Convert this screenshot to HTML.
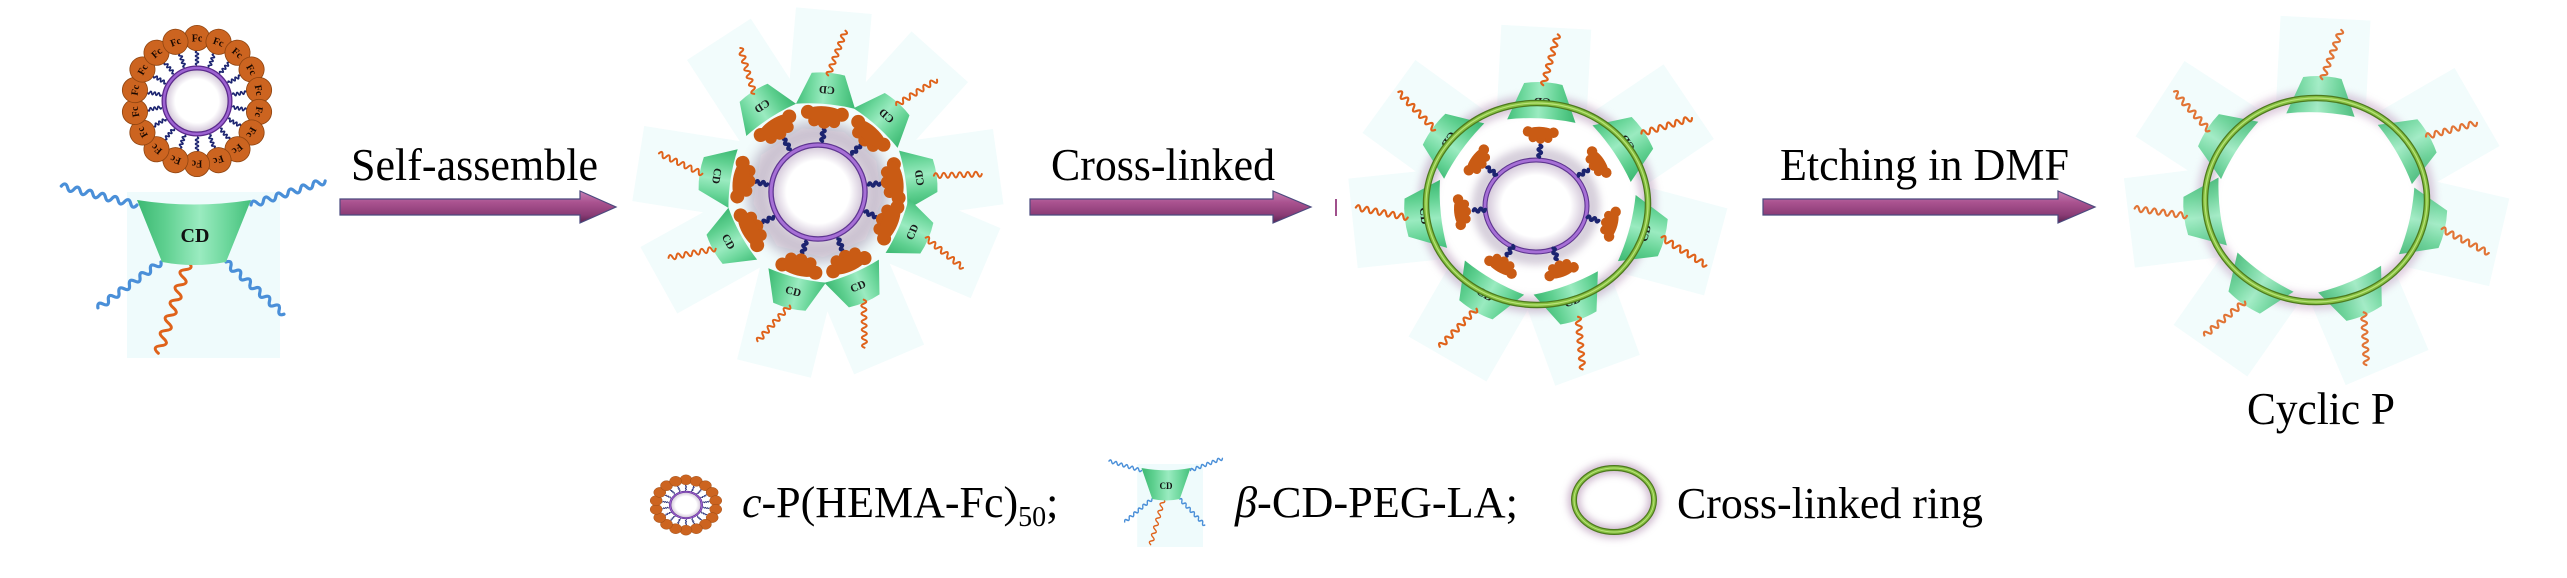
<!DOCTYPE html>
<html><head><meta charset="utf-8"><style>
html,body{margin:0;padding:0;background:#fff;}
svg{display:block;}
svg text{font-family:"Liberation Serif","Times New Roman",Times,"DejaVu Serif",serif;}
</style></head><body>
<svg width="2567" height="578" viewBox="0 0 2567 578" xmlns="http://www.w3.org/2000/svg" xmlns:xlink="http://www.w3.org/1999/xlink">
<defs>
<linearGradient id="ga" x1="0" y1="0" x2="0" y2="1">
<stop offset="0" stop-color="#c781b4"/><stop offset=".35" stop-color="#aa5390"/><stop offset=".75" stop-color="#8a3b75"/><stop offset="1" stop-color="#5a2450"/>
</linearGradient>
<linearGradient id="gCD" x1="0" y1="0" x2="1" y2="0">
<stop offset="0" stop-color="#3cb872"/><stop offset=".25" stop-color="#5fd090"/><stop offset=".55" stop-color="#9aebc0"/><stop offset=".8" stop-color="#6ad69a"/><stop offset="1" stop-color="#44bf7b"/>
</linearGradient>
<radialGradient id="gIn"><stop offset="0" stop-color="#fff"/><stop offset=".7" stop-color="#fff"/><stop offset="1" stop-color="#d4c8da"/></radialGradient>
<filter id="b6" x="-50%" y="-50%" width="200%" height="200%"><feGaussianBlur stdDeviation="6"/></filter>
<filter id="b4" x="-50%" y="-50%" width="200%" height="200%"><feGaussianBlur stdDeviation="4"/></filter>
<path id="wBlue" fill="none" stroke="#4a8fd8" stroke-width="3.2" stroke-linecap="round" d="M0,0 q3.25,-6 6.5,0 t6.5,0 t6.5,0 t6.5,0 t6.5,0 t6.5,0 t6.5,0 t6.5,0 t6.5,0 t6.5,0 t6.5,0 t6.5,0"/>
<path id="wOrange" fill="none" stroke="#df621a" stroke-width="3" stroke-linecap="round" d="M0,0 q4,-9 8,0 t8,0 t8,0 t8,0 t8,0 t8,0 t8,0 t8,0 t8,0 t8,0 t8,0 t8,0"/>
<path id="wSmall" fill="none" stroke="#df621a" stroke-width="2" stroke-linecap="round" d="M0,0 q2,-5 4,0 t4,0 t4,0 t4,0 t4,0 t4,0 t4,0 t4,0 t4,0 t4,0 t4,0 t4,0"/>
<path id="wNavy" fill="none" stroke="#1c2470" stroke-width="1.6" d="M0,0 q1,-3 2,0 t2,0 t2,0 t2,0 t2,0 t2,0 t2,0"/>
<path id="wNavyT" fill="none" stroke="#1c2470" stroke-width="3.4" stroke-linecap="round" d="M0,0 q1.5,-3.5 3,0 t3,0 t3,0 t3,0"/>
<path id="trap" fill="url(#gCD)" d="M-57,0 Q0,9 57,0 L32,62 Q0,68 -32,62 Z"/>
<g id="blob" fill="#c95b14">
<circle cx="-17" cy="4" r="7"/><circle cx="-8" cy="2" r="8"/><circle cx="0" cy="1" r="8.5"/><circle cx="8" cy="2" r="8"/><circle cx="17" cy="4" r="7"/>
<circle cx="-10" cy="-4" r="6"/><circle cx="0" cy="-5" r="6.5"/><circle cx="10" cy="-4" r="6"/>
<ellipse cx="0" cy="3" rx="20" ry="8"/>
</g>
<g id="cdmain">
<rect x="127" y="192" width="153" height="166" fill="#effbfc"/>
<use xlink:href="#wBlue" transform="translate(137,205) rotate(194)"/>
<use xlink:href="#wBlue" transform="translate(251,205) rotate(-18)"/>
<use xlink:href="#wBlue" transform="translate(161,262) rotate(144)"/>
<use xlink:href="#wBlue" transform="translate(226,262) rotate(42)"/>
<use xlink:href="#wOrange" transform="translate(188,262) rotate(108)"/>
<use xlink:href="#trap" transform="translate(194,200)"/>
</g>
<g id="fcr">
<circle cx="197" cy="101" r="31" fill="url(#gIn)"/>
<g transform="translate(197,101)" fill="#cc6420" stroke="#8f4410" stroke-width=".8">
<g transform="rotate(0)"><use xlink:href="#wNavy" transform="translate(0,-36) rotate(-90)"/><circle cx="0" cy="-63" r="12.6"/></g>
<g transform="rotate(20)"><use xlink:href="#wNavy" transform="translate(0,-36) rotate(-90)"/><circle cx="0" cy="-63" r="12.6"/></g>
<g transform="rotate(40)"><use xlink:href="#wNavy" transform="translate(0,-36) rotate(-90)"/><circle cx="0" cy="-63" r="12.6"/></g>
<g transform="rotate(60)"><use xlink:href="#wNavy" transform="translate(0,-36) rotate(-90)"/><circle cx="0" cy="-63" r="12.6"/></g>
<g transform="rotate(80)"><use xlink:href="#wNavy" transform="translate(0,-36) rotate(-90)"/><circle cx="0" cy="-63" r="12.6"/></g>
<g transform="rotate(100)"><use xlink:href="#wNavy" transform="translate(0,-36) rotate(-90)"/><circle cx="0" cy="-63" r="12.6"/></g>
<g transform="rotate(120)"><use xlink:href="#wNavy" transform="translate(0,-36) rotate(-90)"/><circle cx="0" cy="-63" r="12.6"/></g>
<g transform="rotate(140)"><use xlink:href="#wNavy" transform="translate(0,-36) rotate(-90)"/><circle cx="0" cy="-63" r="12.6"/></g>
<g transform="rotate(160)"><use xlink:href="#wNavy" transform="translate(0,-36) rotate(-90)"/><circle cx="0" cy="-63" r="12.6"/></g>
<g transform="rotate(180)"><use xlink:href="#wNavy" transform="translate(0,-36) rotate(-90)"/><circle cx="0" cy="-63" r="12.6"/></g>
<g transform="rotate(200)"><use xlink:href="#wNavy" transform="translate(0,-36) rotate(-90)"/><circle cx="0" cy="-63" r="12.6"/></g>
<g transform="rotate(220)"><use xlink:href="#wNavy" transform="translate(0,-36) rotate(-90)"/><circle cx="0" cy="-63" r="12.6"/></g>
<g transform="rotate(240)"><use xlink:href="#wNavy" transform="translate(0,-36) rotate(-90)"/><circle cx="0" cy="-63" r="12.6"/></g>
<g transform="rotate(260)"><use xlink:href="#wNavy" transform="translate(0,-36) rotate(-90)"/><circle cx="0" cy="-63" r="12.6"/></g>
<g transform="rotate(280)"><use xlink:href="#wNavy" transform="translate(0,-36) rotate(-90)"/><circle cx="0" cy="-63" r="12.6"/></g>
<g transform="rotate(300)"><use xlink:href="#wNavy" transform="translate(0,-36) rotate(-90)"/><circle cx="0" cy="-63" r="12.6"/></g>
<g transform="rotate(320)"><use xlink:href="#wNavy" transform="translate(0,-36) rotate(-90)"/><circle cx="0" cy="-63" r="12.6"/></g>
<g transform="rotate(340)"><use xlink:href="#wNavy" transform="translate(0,-36) rotate(-90)"/><circle cx="0" cy="-63" r="12.6"/></g>
</g>
<circle cx="197" cy="101" r="33" fill="none" stroke="#5b2a8c" stroke-width="5"/>
<circle cx="197" cy="101" r="33" fill="none" stroke="#9d62d2" stroke-width="2.4"/>
</g>
</defs>

<!-- ===== Structure 1 ===== -->
<use xlink:href="#fcr"/>
<g transform="translate(197,101)" font-weight="bold" font-size="10" text-anchor="middle" fill="#1a0800">
<g transform="rotate(0)"><text x="0" y="-59.5">Fc</text></g>
<g transform="rotate(20)"><text x="0" y="-59.5">Fc</text></g>
<g transform="rotate(40)"><text x="0" y="-59.5">Fc</text></g>
<g transform="rotate(60)"><text x="0" y="-59.5">Fc</text></g>
<g transform="rotate(80)"><text x="0" y="-59.5">Fc</text></g>
<g transform="rotate(100)"><text x="0" y="-59.5">Fc</text></g>
<g transform="rotate(120)"><text x="0" y="-59.5">Fc</text></g>
<g transform="rotate(140)"><text x="0" y="-59.5">Fc</text></g>
<g transform="rotate(160)"><text x="0" y="-59.5">Fc</text></g>
<g transform="rotate(180)"><text x="0" y="-59.5">Fc</text></g>
<g transform="rotate(200)"><text x="0" y="-59.5">Fc</text></g>
<g transform="rotate(220)"><text x="0" y="-59.5">Fc</text></g>
<g transform="rotate(240)"><text x="0" y="-59.5">Fc</text></g>
<g transform="rotate(260)"><text x="0" y="-59.5">Fc</text></g>
<g transform="rotate(280)"><text x="0" y="-59.5">Fc</text></g>
<g transform="rotate(300)"><text x="0" y="-59.5">Fc</text></g>
<g transform="rotate(320)"><text x="0" y="-59.5">Fc</text></g>
<g transform="rotate(340)"><text x="0" y="-59.5">Fc</text></g>
</g>
<use xlink:href="#cdmain"/>
<text x="195" y="242" font-weight="bold" font-size="20" text-anchor="middle" fill="#111">CD</text>

<!-- ===== Arrows & labels ===== -->
<path d="M340,199 L580,199 L580,191 L616,207 L580,223 L580,215 L340,215 Z" fill="url(#ga)" stroke="#4b4a7e" stroke-width="1.2"/>
<path d="M1030,199 L1273,199 L1273,191 L1311,207 L1273,223 L1273,215 L1030,215 Z" fill="url(#ga)" stroke="#4b4a7e" stroke-width="1.2"/>
<path d="M1763,199 L2058,199 L2058,191 L2095,207 L2058,223 L2058,215 L1763,215 Z" fill="url(#ga)" stroke="#4b4a7e" stroke-width="1.2"/>
<text x="351" y="180" font-size="45" fill="#000" textLength="247" lengthAdjust="spacingAndGlyphs">Self-assemble</text>
<text x="1051" y="180" font-size="45" fill="#000" textLength="224" lengthAdjust="spacingAndGlyphs">Cross-linked</text>
<text x="1780" y="180" font-size="45" fill="#000" textLength="289" lengthAdjust="spacingAndGlyphs">Etching in DMF</text>
<text x="2247" y="424" font-size="46" fill="#000" textLength="148" lengthAdjust="spacingAndGlyphs">Cyclic P</text>

<!-- ===== Structure 2 (818,192) ===== -->
<g fill="#f2fcfc">
<rect x="-38" y="62" width="76" height="120" transform="translate(818,192) rotate(99)"/>
<rect x="-38" y="62" width="76" height="120" transform="translate(818,192) rotate(147)"/>
<rect x="-38" y="62" width="76" height="120" transform="translate(818,192) rotate(-175)"/>
<rect x="-38" y="62" width="76" height="120" transform="translate(818,192) rotate(-138)"/>
<rect x="-38" y="62" width="76" height="120" transform="translate(818,192) rotate(-98)"/>
<rect x="-38" y="62" width="76" height="120" transform="translate(818,192) rotate(-67)"/>
<rect x="-38" y="62" width="76" height="120" transform="translate(818,192) rotate(-23)"/>
<rect x="-38" y="62" width="76" height="120" transform="translate(818,192) rotate(14)"/>
<rect x="-38" y="62" width="76" height="120" transform="translate(818,192) rotate(61)"/>
</g>
<circle cx="818" cy="192" r="58" fill="none" stroke="#8e7a9a" stroke-width="26" opacity=".45" filter="url(#b6)"/>
<circle cx="818" cy="192" r="45" fill="url(#gIn)"/>
<circle cx="818" cy="192" r="47" fill="none" stroke="#5e3590" stroke-width="5.5"/>
<circle cx="818" cy="192" r="47" fill="none" stroke="#a66fd6" stroke-width="3"/>
<g font-weight="bold" font-size="11" text-anchor="middle" fill="#1a1a1a">
<g transform="translate(818,192) rotate(99)"><use xlink:href="#wNavyT" transform="translate(0,51) rotate(90)"/><use xlink:href="#blob" transform="translate(0,75)"/><use xlink:href="#trap" transform="translate(0,86) scale(.52)"/><use xlink:href="#wSmall" transform="translate(0,117) rotate(106)"/><text x="0" y="106">CD</text></g>
<g transform="translate(818,192) rotate(147)"><use xlink:href="#wNavyT" transform="translate(0,51) rotate(90)"/><use xlink:href="#blob" transform="translate(0,75)"/><use xlink:href="#trap" transform="translate(0,86) scale(.52)"/><use xlink:href="#wSmall" transform="translate(0,117) rotate(106)"/><text x="0" y="106">CD</text></g>
<g transform="translate(818,192) rotate(-175)"><use xlink:href="#wNavyT" transform="translate(0,51) rotate(90)"/><use xlink:href="#blob" transform="translate(0,75)"/><use xlink:href="#trap" transform="translate(0,86) scale(.52)"/><use xlink:href="#wSmall" transform="translate(0,117) rotate(106)"/><text x="0" y="106">CD</text></g>
<g transform="translate(818,192) rotate(-138)"><use xlink:href="#wNavyT" transform="translate(0,51) rotate(90)"/><use xlink:href="#blob" transform="translate(0,75)"/><use xlink:href="#trap" transform="translate(0,86) scale(.52)"/><use xlink:href="#wSmall" transform="translate(0,117) rotate(106)"/><text x="0" y="106">CD</text></g>
<g transform="translate(818,192) rotate(-98)"><use xlink:href="#wNavyT" transform="translate(0,51) rotate(90)"/><use xlink:href="#blob" transform="translate(0,75)"/><use xlink:href="#trap" transform="translate(0,86) scale(.52)"/><use xlink:href="#wSmall" transform="translate(0,117) rotate(96)"/><text x="0" y="106">CD</text></g>
<g transform="translate(818,192) rotate(-67)"><use xlink:href="#wNavyT" transform="translate(0,51) rotate(90)"/><use xlink:href="#blob" transform="translate(0,75)"/><use xlink:href="#trap" transform="translate(0,86) scale(.52)"/><use xlink:href="#wSmall" transform="translate(0,117) rotate(106)"/><text x="0" y="106">CD</text></g>
<g transform="translate(818,192) rotate(-23)"><use xlink:href="#wNavyT" transform="translate(0,51) rotate(90)"/><use xlink:href="#blob" transform="translate(0,75)"/><use xlink:href="#trap" transform="translate(0,86) scale(.52)"/><use xlink:href="#wSmall" transform="translate(0,117) rotate(112)"/><text x="0" y="106">CD</text></g>
<g transform="translate(818,192) rotate(14)"><use xlink:href="#wNavyT" transform="translate(0,51) rotate(90)"/><use xlink:href="#blob" transform="translate(0,75)"/><use xlink:href="#trap" transform="translate(0,86) scale(.52)"/><use xlink:href="#wSmall" transform="translate(0,117) rotate(118)"/><text x="0" y="106">CD</text></g>
<g transform="translate(818,192) rotate(61)"><use xlink:href="#wNavyT" transform="translate(0,51) rotate(90)"/><use xlink:href="#blob" transform="translate(0,75)"/><use xlink:href="#trap" transform="translate(0,86) scale(.52)"/><use xlink:href="#wSmall" transform="translate(0,117) rotate(108)"/><text x="0" y="106">CD</text></g>
</g>

<!-- ===== Structure 3 (1537,204) ===== -->
<g fill="#f2fcfc">
<rect x="-45" y="98" width="90" height="85" transform="translate(1537,204) rotate(126)"/>
<rect x="-45" y="92" width="90" height="85" transform="translate(1537,204) rotate(-177)"/>
<rect x="-45" y="98" width="90" height="85" transform="translate(1537,204) rotate(-124)"/>
<rect x="-45" y="100" width="90" height="85" transform="translate(1537,204) rotate(-75)"/>
<rect x="-45" y="92" width="90" height="85" transform="translate(1537,204) rotate(-20)"/>
<rect x="-45" y="94" width="90" height="85" transform="translate(1537,204) rotate(30)"/>
<rect x="-45" y="100" width="90" height="85" transform="translate(1537,204) rotate(84)"/>
</g>
<rect x="1335" y="199" width="2" height="17" fill="#a0508c"/>
<ellipse cx="1537" cy="204" rx="111" ry="101" fill="none" stroke="#b79ab9" stroke-width="16" opacity=".55" filter="url(#b4)"/>
<ellipse cx="1536" cy="206" rx="56" ry="51" fill="none" stroke="#9a88a6" stroke-width="16" opacity=".4" filter="url(#b4)"/>
<ellipse cx="1536" cy="206" rx="49" ry="44" fill="url(#gIn)"/>
<ellipse cx="1536" cy="206" rx="51" ry="46" fill="none" stroke="#5e3590" stroke-width="5"/>
<ellipse cx="1536" cy="206" rx="51" ry="46" fill="none" stroke="#a66fd6" stroke-width="2.8"/>
<g font-weight="bold" font-size="12" text-anchor="middle" fill="#1a1a1a">
<g transform="translate(1537,204) rotate(126)"><use xlink:href="#wNavyT" transform="translate(0,50) rotate(90)"/><use xlink:href="#blob" transform="translate(0,72) scale(.75)"/><use xlink:href="#trap" transform="translate(0,90) scale(.6)"/><use xlink:href="#wSmall" transform="translate(0,126) rotate(100) scale(1.1)"/><text x="0" y="113">CD</text></g>
<g transform="translate(1537,204) rotate(-177)"><use xlink:href="#wNavyT" transform="translate(0,47) rotate(90)"/><use xlink:href="#blob" transform="translate(0,69) scale(.75)"/><use xlink:href="#trap" transform="translate(0,83) scale(.6)"/><use xlink:href="#wSmall" transform="translate(0,119) rotate(103) scale(1.1)"/><text x="0" y="106">CD</text></g>
<g transform="translate(1537,204) rotate(-124)"><use xlink:href="#wNavyT" transform="translate(0,50) rotate(90)"/><use xlink:href="#blob" transform="translate(0,72) scale(.75)"/><use xlink:href="#trap" transform="translate(0,90) scale(.6)"/><use xlink:href="#wSmall" transform="translate(0,126) rotate(107) scale(1.1)"/><text x="0" y="113">CD</text></g>
<g transform="translate(1537,204) rotate(-75)"><use xlink:href="#wNavyT" transform="translate(0,52) rotate(90)"/><use xlink:href="#blob" transform="translate(0,75) scale(.75)"/><use xlink:href="#trap" transform="translate(0,93) scale(.6)"/><use xlink:href="#wSmall" transform="translate(0,129) rotate(107) scale(1.1)"/><text x="0" y="116">CD</text></g>
<g transform="translate(1537,204) rotate(-20)"><use xlink:href="#wNavyT" transform="translate(0,47) rotate(90)"/><use xlink:href="#blob" transform="translate(0,69) scale(.75)"/><use xlink:href="#trap" transform="translate(0,84) scale(.6)"/><use xlink:href="#wSmall" transform="translate(0,120) rotate(105) scale(1.1)"/><text x="0" y="107">CD</text></g>
<g transform="translate(1537,204) rotate(30)"><use xlink:href="#wNavyT" transform="translate(0,48) rotate(90)"/><use xlink:href="#blob" transform="translate(0,70) scale(.75)"/><use xlink:href="#trap" transform="translate(0,85) scale(.6)"/><use xlink:href="#wSmall" transform="translate(0,121) rotate(104) scale(1.1)"/><text x="0" y="108">CD</text></g>
<g transform="translate(1537,204) rotate(84)"><use xlink:href="#wNavyT" transform="translate(0,52) rotate(90)"/><use xlink:href="#blob" transform="translate(0,75) scale(.75)"/><use xlink:href="#trap" transform="translate(0,94) scale(.6)"/><use xlink:href="#wSmall" transform="translate(0,130) rotate(107) scale(1.1)"/><text x="0" y="117">CD</text></g>
</g>
<ellipse cx="1537" cy="204" rx="111" ry="101" fill="none" stroke="#4d7a1e" stroke-width="6.5"/>
<ellipse cx="1537" cy="204" rx="111" ry="101" fill="none" stroke="#86c040" stroke-width="4"/>
<ellipse cx="1537" cy="204" rx="111" ry="101" fill="none" stroke="#b8e27a" stroke-width="1.2"/>

<!-- ===== Structure 4 (2316,200) ===== -->
<g fill="#f2fcfc">
<rect x="-45" y="98" width="90" height="88" transform="translate(2316,200) rotate(123)"/>
<rect x="-45" y="94" width="90" height="88" transform="translate(2316,200) rotate(-177)"/>
<rect x="-45" y="98" width="90" height="88" transform="translate(2316,200) rotate(-120)"/>
<rect x="-45" y="100" width="90" height="88" transform="translate(2316,200) rotate(-77)"/>
<rect x="-45" y="94" width="90" height="88" transform="translate(2316,200) rotate(-23)"/>
<rect x="-45" y="96" width="90" height="88" transform="translate(2316,200) rotate(35)"/>
<rect x="-45" y="100" width="90" height="88" transform="translate(2316,200) rotate(83)"/>
</g>
<ellipse cx="2316" cy="200" rx="111" ry="102" fill="none" stroke="#c2a3c2" stroke-width="16" opacity=".55" filter="url(#b4)"/>
<g opacity=".88">
<g transform="translate(2316,200) rotate(123)"><use xlink:href="#trap" transform="translate(0,91) scale(.6)"/><use xlink:href="#wSmall" transform="translate(0,127) rotate(105) scale(1.1)"/></g>
<g transform="translate(2316,200) rotate(-177)"><use xlink:href="#trap" transform="translate(0,85) scale(.6)"/><use xlink:href="#wSmall" transform="translate(0,121) rotate(108) scale(1.1)"/></g>
<g transform="translate(2316,200) rotate(-120)"><use xlink:href="#trap" transform="translate(0,91) scale(.6)"/><use xlink:href="#wSmall" transform="translate(0,127) rotate(105) scale(1.1)"/></g>
<g transform="translate(2316,200) rotate(-77)"><use xlink:href="#trap" transform="translate(0,93) scale(.6)"/><use xlink:href="#wSmall" transform="translate(0,129) rotate(104) scale(1.1)"/></g>
<g transform="translate(2316,200) rotate(-23)"><use xlink:href="#trap" transform="translate(0,86) scale(.6)"/><use xlink:href="#wSmall" transform="translate(0,122) rotate(110) scale(1.1)"/></g>
<g transform="translate(2316,200) rotate(35)"><use xlink:href="#trap" transform="translate(0,88) scale(.6)"/><use xlink:href="#wSmall" transform="translate(0,124) rotate(105) scale(1.1)"/></g>
<g transform="translate(2316,200) rotate(83)"><use xlink:href="#trap" transform="translate(0,94) scale(.6)"/><use xlink:href="#wSmall" transform="translate(0,130) rotate(105) scale(1.1)"/></g>
</g>
<ellipse cx="2316" cy="200" rx="111" ry="102" fill="none" stroke="#4d7a1e" stroke-width="6.5"/>
<ellipse cx="2316" cy="200" rx="111" ry="102" fill="none" stroke="#86c040" stroke-width="4"/>
<ellipse cx="2316" cy="200" rx="111" ry="102" fill="none" stroke="#b8e27a" stroke-width="1.2"/>

<!-- ===== Legend ===== -->
<use xlink:href="#fcr" transform="translate(591.4,464.6) scale(0.48,0.4)"/>
<text x="742" y="517" font-size="44" fill="#000"><tspan font-style="italic">c</tspan>-P(HEMA-Fc)<tspan font-size="28" dy="9">50</tspan><tspan dy="-9">;</tspan></text>

<use xlink:href="#cdmain" transform="translate(1082.6,368) scale(0.43,0.5)"/>
<text x="1166" y="489" font-weight="bold" font-size="9" text-anchor="middle" fill="#111">CD</text>
<text x="1235" y="517" font-size="44" fill="#000" textLength="283" lengthAdjust="spacingAndGlyphs"><tspan font-style="italic">β</tspan>-CD-PEG-LA;</text>

<ellipse cx="1614" cy="500" rx="40" ry="32" fill="none" stroke="#b898b8" stroke-width="12" opacity=".7" filter="url(#b4)"/>
<ellipse cx="1614" cy="500" rx="40" ry="32" fill="none" stroke="#4d7a1e" stroke-width="6"/>
<ellipse cx="1614" cy="500" rx="40" ry="32" fill="none" stroke="#86c040" stroke-width="3.6"/>
<ellipse cx="1614" cy="500" rx="40" ry="32" fill="none" stroke="#b8e27a" stroke-width="1"/>
<text x="1677" y="518" font-size="44" fill="#000" textLength="306" lengthAdjust="spacingAndGlyphs">Cross-linked ring</text>
</svg>
</body></html>
